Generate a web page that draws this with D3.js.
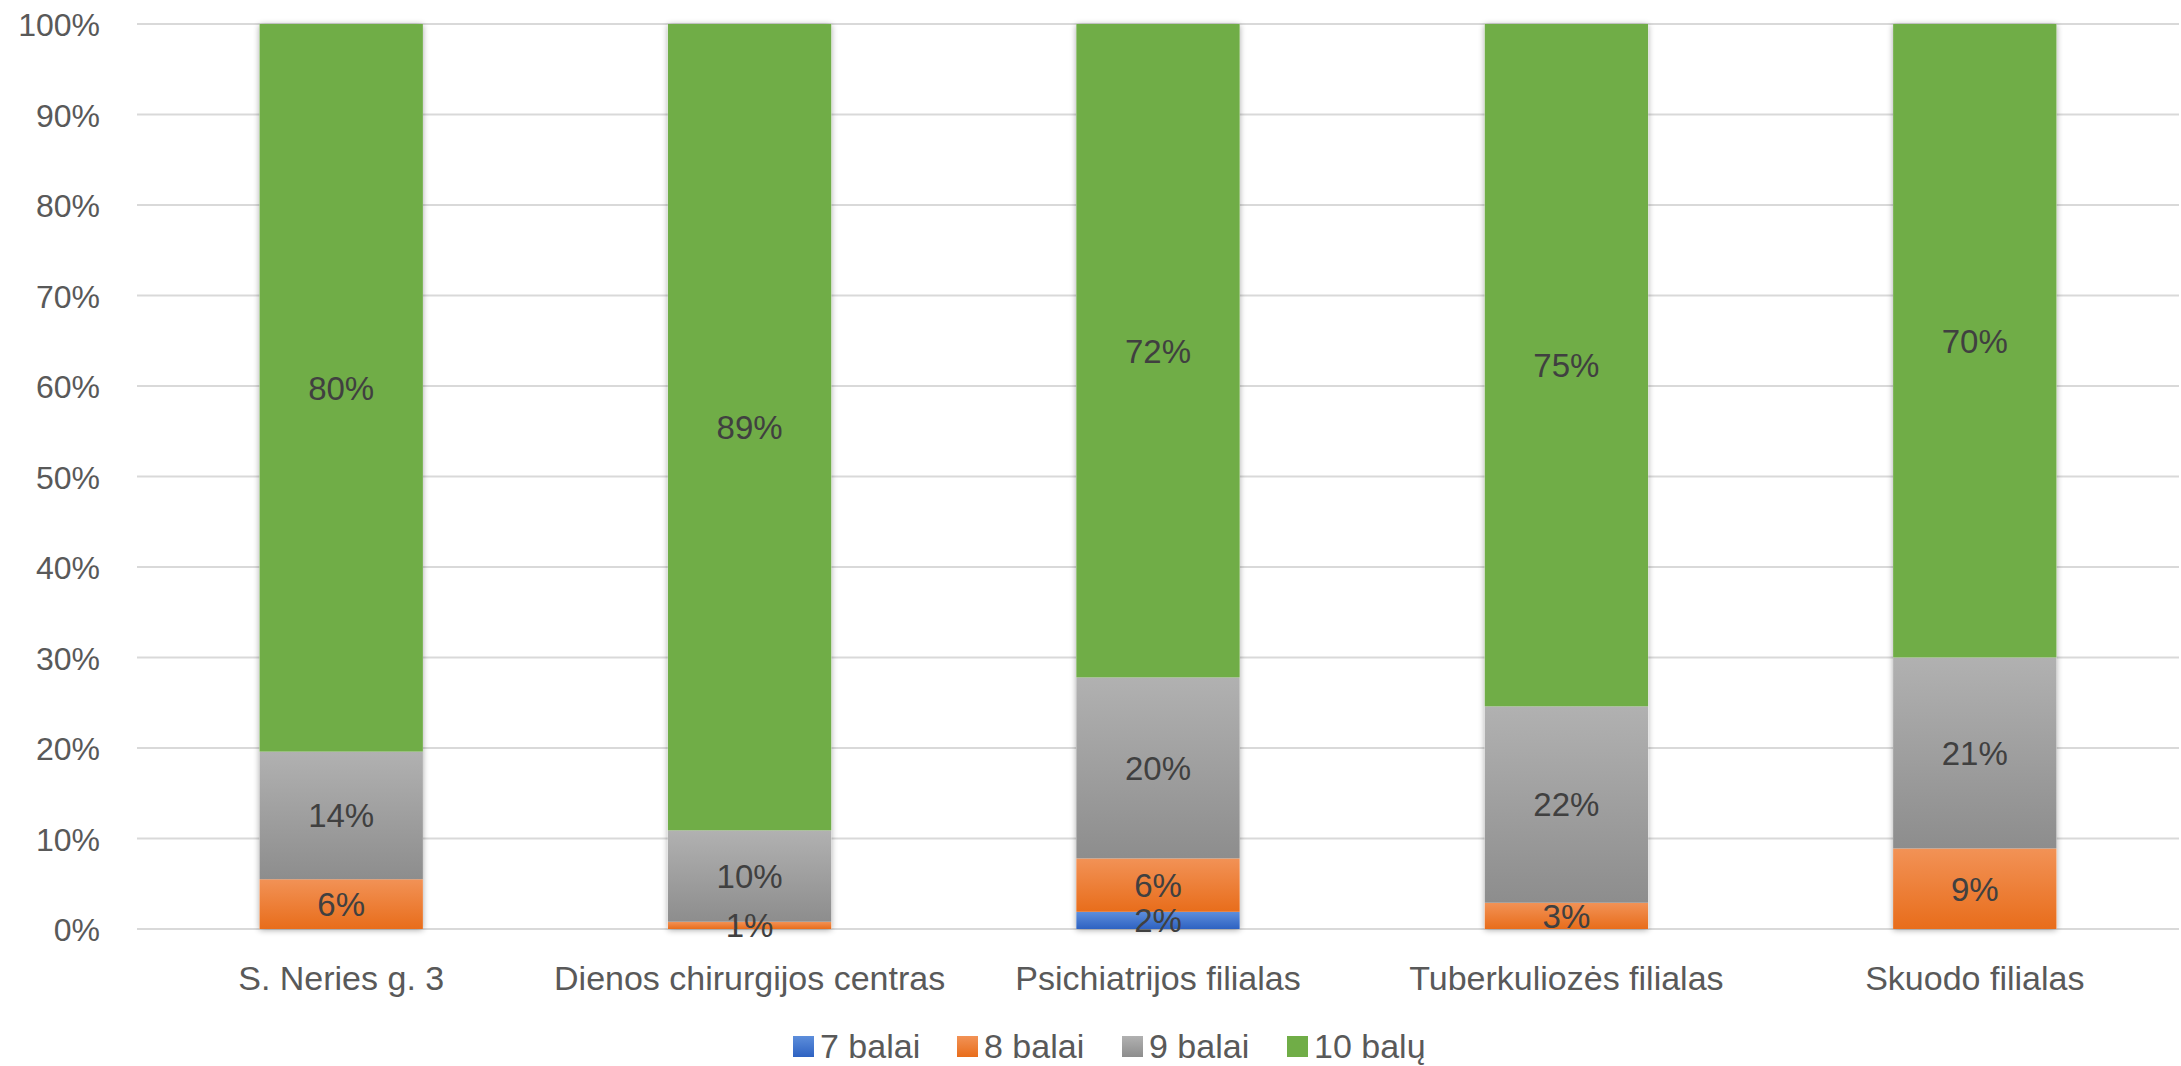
<!DOCTYPE html>
<html>
<head>
<meta charset="utf-8">
<script src="https://cdn.jsdelivr.net/npm/d3@7"></script>
<style>
  html, body { margin: 0; padding: 0; background: #fff; }
  svg { display: block; }
  text { font-family: "Liberation Sans", Arial, sans-serif; }
</style>
</head>
<body>
<svg id="chart" width="2181" height="1066"></svg>
<script>
const categories = ["S. Neries g. 3", "Dienos chirurgijos centras", "Psichiatrijos filialas", "Tuberkuliozės filialas", "Skuodo filialas"];
const seriesNames = ["7 balai", "8 balai", "9 balai", "10 balų"];
const balai7  = [0,   0,    1.9,  0,    0];
const balai8  = [5.5, 0.8,  5.9,  2.9,  8.9];
const balai9  = [14.1, 10.1, 20.0, 21.7, 21.1];
const balu10  = [80.4, 89.1, 72.2, 75.4, 70.0];
const yTicks = [0, 10, 20, 30, 40, 50, 60, 70, 80, 90, 100];
const seriesColors = [
  ["#5d8edb", "#2e62c2"],
  ["#f29256", "#e86d1b"],
  ["#b1b1b1", "#8d8d8d"],
  ["#70ad47", "#70ad47"]
];

const seriesValues = [balai7, balai8, balai9, balu10];
const data = categories.map((c, i) => {
  const o = { cat: c };
  seriesNames.forEach((s, j) => o[s] = seriesValues[j][i]);
  return o;
});

const svg = d3.select("#chart");
const margin = { left: 137, right: 2, top: 24, bottom: 137 };
const W = 2181, H = 1066;
const x = d3.scaleBand().domain(categories).range([margin.left, W - margin.right]).paddingInner(0.6).paddingOuter(0.3);
const y = d3.scaleLinear().domain([0, 100]).range([H - margin.bottom, margin.top]);

const defs = svg.append("defs");
seriesColors.forEach((c, i) => {
  const g = defs.append("linearGradient").attr("id", "grad" + i)
    .attr("x1", 0).attr("y1", 0).attr("x2", 0).attr("y2", 1);
  g.append("stop").attr("offset", "0%").attr("stop-color", c[0]);
  g.append("stop").attr("offset", "100%").attr("stop-color", c[1]);
});
const f = defs.append("filter").attr("id", "shadow").attr("x", "-20%").attr("y", "-5%").attr("width", "140%").attr("height", "110%");
f.append("feGaussianBlur").attr("in", "SourceAlpha").attr("stdDeviation", 3).attr("result", "b");
f.append("feOffset").attr("in", "b").attr("dx", 0).attr("dy", 1).attr("result", "o");
f.append("feComponentTransfer").attr("in", "o").attr("result", "s")
  .append("feFuncA").attr("type", "linear").attr("slope", 0.35);
const fm = f.append("feMerge");
fm.append("feMergeNode").attr("in", "s");
fm.append("feMergeNode").attr("in", "SourceGraphic");

// gridlines
svg.append("g").selectAll("line").data(yTicks).join("line")
  .attr("x1", margin.left).attr("x2", W - margin.right)
  .attr("y1", d => y(d)).attr("y2", d => y(d))
  .attr("stroke", "#d9d9d9").attr("stroke-width", 2);

// y axis labels
const yAxis = d3.axisLeft(y).tickValues(yTicks).tickFormat(d => d + "%").tickSize(0).tickPadding(37);
const ya = svg.append("g").attr("transform", `translate(${margin.left},0)`).call(yAxis);
ya.select(".domain").remove();
ya.selectAll("text").attr("font-size", 32).attr("fill", "#595959").attr("dy", "0.36em")
  .style("font-family", '"Liberation Sans", Arial, sans-serif');

// stacks
const stack = d3.stack().keys(seriesNames);
const stacked = stack(data);

const barsG = svg.append("g");
barsG.selectAll("rect.sh").data(data).join("rect").attr("class", "sh")
  .attr("x", d => x(d.cat)).attr("width", x.bandwidth())
  .attr("y", y(100)).attr("height", y(0) - y(100))
  .attr("fill", "#fff").attr("filter", "url(#shadow)");

stacked.forEach((layer, i) => {
  barsG.append("g").selectAll("rect").data(layer).join("rect")
    .attr("x", d => x(d.data.cat)).attr("width", x.bandwidth())
    .attr("y", d => y(d[1])).attr("height", d => Math.max(0, y(d[0]) - y(d[1])))
    .attr("fill", `url(#grad${i})`);
});

// data labels
stacked.forEach((layer, i) => {
  svg.append("g").selectAll("text").data(layer.filter(d => d[1] - d[0] > 0)).join("text")
    .attr("x", d => x(d.data.cat) + x.bandwidth() / 2)
    .attr("y", d => (y(d[0]) + y(d[1])) / 2)
    .attr("dy", "0.36em")
    .attr("text-anchor", "middle")
    .attr("font-size", 33).attr("fill", "#404040")
    .text(d => Math.round(d[1] - d[0]) + "%");
});

// x axis labels
const xAxis = d3.axisBottom(x).tickSize(0).tickPadding(0);
const xa = svg.append("g").attr("transform", `translate(0,${y(0)})`).call(xAxis);
xa.select(".domain").remove();
xa.selectAll("text").attr("font-size", 34).attr("fill", "#595959").attr("dy", 0).attr("y", 61)
  .style("font-family", '"Liberation Sans", Arial, sans-serif');

// legend
const legendX = [793, 957, 1122, 1287];
const lg = svg.append("g");
seriesNames.forEach((s, i) => {
  const g = lg.append("g").attr("transform", `translate(${legendX[i]},1036)`);
  g.append("rect").attr("width", 21).attr("height", 21).attr("fill", `url(#grad${i})`);
  g.append("text").attr("x", 27).attr("y", 22).attr("font-size", 34).attr("fill", "#595959").text(s);
});
</script>
</body>
</html>
